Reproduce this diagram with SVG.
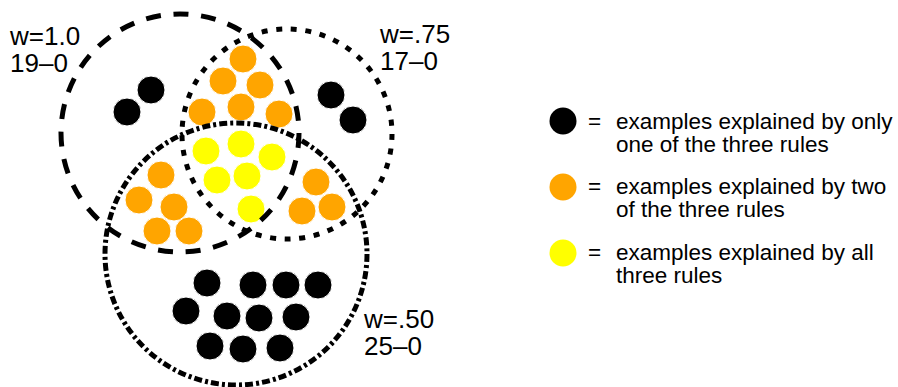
<svg xmlns="http://www.w3.org/2000/svg" width="898" height="387" viewBox="0 0 898 387">
  <style>
    .lbl { font-family: "Liberation Sans", Arial, sans-serif; font-size: 26px; fill: #000; }
    .leg { font-family: "Liberation Sans", Arial, sans-serif; font-size: 22.5px; fill: #000; }
    .dot { stroke: #fff; stroke-width: 1; }
    .one { fill: #000; }
    .two { fill: #ffa500; }
    .all { fill: #ffff00; }
    .set { fill: none; stroke: #000; stroke-width: 5; }
  </style>

  <!-- examples (dots) -->
  <g id="dots">
    <!-- only rule w=1.0 -->
    <circle class="dot one" cx="151" cy="90" r="14"/>
    <circle class="dot one" cx="127" cy="112" r="14"/>
    <!-- only rule w=.75 -->
    <circle class="dot one" cx="331" cy="95" r="14"/>
    <circle class="dot one" cx="353" cy="120" r="14"/>
    <!-- rules w=1.0 and w=.75 -->
    <circle class="dot two" cx="243" cy="59" r="14"/>
    <circle class="dot two" cx="223" cy="81" r="14"/>
    <circle class="dot two" cx="260" cy="85" r="14"/>
    <circle class="dot two" cx="202" cy="112" r="14"/>
    <circle class="dot two" cx="241" cy="107" r="14"/>
    <circle class="dot two" cx="279" cy="114" r="14"/>
    <!-- all three rules -->
    <circle class="dot all" cx="206" cy="151" r="14"/>
    <circle class="dot all" cx="241" cy="144" r="14"/>
    <circle class="dot all" cx="272" cy="157" r="14"/>
    <circle class="dot all" cx="217" cy="180" r="14"/>
    <circle class="dot all" cx="247" cy="176" r="14"/>
    <circle class="dot all" cx="251" cy="209" r="14"/>
    <!-- rules w=1.0 and w=.50 -->
    <circle class="dot two" cx="161" cy="175" r="14"/>
    <circle class="dot two" cx="139" cy="200" r="14"/>
    <circle class="dot two" cx="174" cy="207" r="14"/>
    <circle class="dot two" cx="157" cy="231" r="14"/>
    <circle class="dot two" cx="189" cy="231" r="14"/>
    <!-- rules w=.75 and w=.50 -->
    <circle class="dot two" cx="316" cy="182" r="14"/>
    <circle class="dot two" cx="302" cy="211" r="14"/>
    <circle class="dot two" cx="332" cy="207" r="14"/>
    <!-- only rule w=.50 -->
    <circle class="dot one" cx="207" cy="283" r="14"/>
    <circle class="dot one" cx="253" cy="285" r="14"/>
    <circle class="dot one" cx="286" cy="285" r="14"/>
    <circle class="dot one" cx="318" cy="285" r="14"/>
    <circle class="dot one" cx="186" cy="311" r="14"/>
    <circle class="dot one" cx="227" cy="316" r="14"/>
    <circle class="dot one" cx="259" cy="318" r="14"/>
    <circle class="dot one" cx="296" cy="317" r="14"/>
    <circle class="dot one" cx="210" cy="346" r="14"/>
    <circle class="dot one" cx="243" cy="349" r="14"/>
    <circle class="dot one" cx="280" cy="348" r="14"/>
  </g>

  <!-- rule w=1.0 -->
  <g id="rule-w100">
    <circle class="set" cx="180" cy="133" r="119" stroke-dasharray="15 12.7"/>
    <text class="lbl" x="10" y="45">w=1.0</text>
    <text class="lbl" x="10" y="72">19–0</text>
  </g>

  <!-- rule w=.75 -->
  <g id="rule-w075">
    <circle class="set" cx="287" cy="134" r="105" stroke-dasharray="6 8.65"/>
    <text class="lbl" x="380" y="43">w=.75</text>
    <text class="lbl" x="380" y="70">17–0</text>
  </g>

  <!-- rule w=.50 -->
  <g id="rule-w050">
    <circle class="set" cx="236" cy="254" r="131" stroke-width="4.5" stroke-dasharray="8 3 3 3.15"/>
    <text class="lbl" x="364" y="328">w=.50</text>
    <text class="lbl" x="364" y="355">25–0</text>
  </g>

  <!-- legend -->
  <g id="legend-one">
    <circle class="one" cx="563" cy="121" r="13.5"/>
    <text class="leg" x="588" y="128.5">=</text>
    <text class="leg" x="616" y="128.5">examples explained by only</text>
    <text class="leg" x="616" y="151.5">one of the three rules</text>
  </g>
  <g id="legend-two">
    <circle class="two" cx="563" cy="187" r="13.5"/>
    <text class="leg" x="588" y="194">=</text>
    <text class="leg" x="616" y="194">examples explained by two</text>
    <text class="leg" x="616" y="217">of the three rules</text>
  </g>
  <g id="legend-all">
    <circle class="all" cx="563" cy="253" r="13.5"/>
    <text class="leg" x="588" y="260">=</text>
    <text class="leg" x="616" y="260">examples explained by all</text>
    <text class="leg" x="616" y="283">three rules</text>
  </g>
</svg>
